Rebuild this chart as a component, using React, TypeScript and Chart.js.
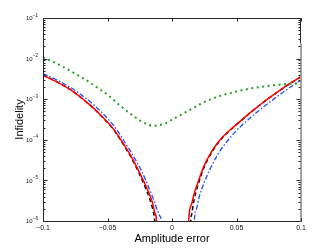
import React, { useEffect, useRef } from 'react';
import { Chart, registerables } from 'chart.js';

Chart.register(...registerables);

// ---- data ----
const redErr = [-0.1, -0.095, -0.09, -0.085, -0.08, -0.075, -0.07, -0.065, -0.06, -0.055, -0.05, -0.045, -0.04, -0.035, -0.03, -0.025, -0.02, -0.017, -0.015, -0.013, -0.012, -0.0112,
  0.0122, 0.013, 0.015, 0.017, 0.02, 0.025, 0.03, 0.035, 0.04, 0.045, 0.05, 0.055, 0.06, 0.065, 0.07, 0.075, 0.08, 0.085, 0.09, 0.095, 0.1];
const redInf = [3.89e-3, 3.27e-3, 2.75e-3, 2.26e-3, 1.82e-3, 1.41e-3, 1.07e-3, 7.9e-4, 5.7e-4, 3.98e-4, 2.72e-4, 1.78e-4, 1.05e-4, 5.9e-5, 3.16e-5, 1.51e-5, 7.1e-6, 4.2e-6, 2.75e-6, 1.5e-6, 1.0e-6, 1e-8,
  1e-8, 1.07e-6, 2.5e-6, 4.5e-6, 8.7e-6, 2.34e-5, 4.68e-5, 8.1e-5, 1.24e-4, 1.74e-4, 2.4e-4, 3.28e-4, 4.48e-4, 6.04e-4, 8.05e-4, 1.06e-3, 1.38e-3, 1.78e-3, 2.28e-3, 2.88e-3, 3.63e-3];

const blackErr = [-0.1, -0.095, -0.09, -0.085, -0.08, -0.075, -0.07, -0.065, -0.06, -0.055, -0.05, -0.045, -0.04, -0.035, -0.03, -0.025, -0.02, -0.017, -0.015, -0.014, -0.0135, -0.0128,
  0.0138, 0.0145, 0.015, 0.017, 0.02, 0.025, 0.03, 0.035, 0.04, 0.045, 0.05, 0.055, 0.06, 0.065, 0.07, 0.075, 0.08, 0.085, 0.09, 0.095, 0.1];
const blackInf = [3.98e-3, 3.3e-3, 2.76e-3, 2.26e-3, 1.82e-3, 1.41e-3, 1.06e-3, 7.8e-4, 5.6e-4, 3.9e-4, 2.65e-4, 1.72e-4, 1.0e-4, 5.6e-5, 2.95e-5, 1.38e-5, 6.0e-6, 3.3e-6, 2.0e-6, 1.45e-6, 1.05e-6, 1e-8,
  1e-8, 1.0e-6, 1.35e-6, 3.2e-6, 7.4e-6, 2.14e-5, 4.4e-5, 7.8e-5, 1.21e-4, 1.71e-4, 2.37e-4, 3.25e-4, 4.44e-4, 6.0e-4, 8.0e-4, 1.05e-3, 1.37e-3, 1.76e-3, 2.25e-3, 2.84e-3, 3.55e-3];

const blueErr = [-0.1, -0.095, -0.09, -0.085, -0.08, -0.075, -0.07, -0.065, -0.06, -0.055, -0.05, -0.045, -0.04, -0.035, -0.03, -0.025, -0.02, -0.015, -0.012, -0.01, -0.008, -0.007, -0.006,
  0.0163, 0.0173, 0.019, 0.021, 0.025, 0.03, 0.035, 0.04, 0.045, 0.05, 0.055, 0.06, 0.065, 0.07, 0.075, 0.08, 0.085, 0.09, 0.095, 0.1];
const blueInf = [4.27e-3, 3.63e-3, 3.05e-3, 2.54e-3, 2.07e-3, 1.64e-3, 1.26e-3, 9.5e-4, 6.95e-4, 4.93e-4, 3.36e-4, 2.2e-4, 1.3e-4, 7.3e-5, 4.0e-5, 2.1e-5, 9.5e-6, 3.9e-6, 2.1e-6, 1.45e-6, 1.0e-6, 5e-7, 1e-8,
  1e-8, 1.0e-6, 2.0e-6, 3.8e-6, 8.9e-6, 2.04e-5, 4.1e-5, 7.1e-5, 1.12e-4, 1.7e-4, 2.42e-4, 3.33e-4, 4.54e-4, 6.1e-4, 8.1e-4, 1.07e-3, 1.4e-3, 1.81e-3, 2.32e-3, 2.95e-3];

const greenErr = [-0.1, -0.095, -0.09, -0.085, -0.08, -0.075, -0.07, -0.065, -0.06, -0.055, -0.05, -0.045, -0.04, -0.035, -0.03, -0.025, -0.02, -0.015, -0.01, -0.005,
  0, 0.005, 0.01, 0.015, 0.02, 0.025, 0.03, 0.035, 0.04, 0.045, 0.05, 0.055, 0.06, 0.065, 0.07, 0.075, 0.08, 0.085, 0.09, 0.095, 0.1];
const greenInf = [1.07e-2, 9.1e-3, 7.7e-3, 6.4e-3, 5.2e-3, 4.24e-3, 3.44e-3, 2.75e-3, 2.15e-3, 1.67e-3, 1.29e-3, 9.4e-4, 6.9e-4, 5.1e-4, 3.9e-4, 3.0e-4, 2.5e-4, 2.2e-4, 2.3e-4, 2.55e-4,
  3.15e-4, 3.8e-4, 4.7e-4, 5.7e-4, 7.0e-4, 8.5e-4, 9.9e-4, 1.14e-3, 1.28e-3, 1.41e-3, 1.55e-3, 1.68e-3, 1.81e-3, 1.93e-3, 2.03e-3, 2.14e-3, 2.24e-3, 2.3e-3, 2.36e-3, 2.43e-3, 2.48e-3];

const xTickValues = [-0.1, -0.05, 0, 0.05, 0.1];
const xTickLabels = ['\u22120.1', '\u22120.05', '0', '0.05', '0.1'];
const yTickExponents = [-6, -5, -4, -3, -2, -1];
const yTickLabels = ['\u22126', '\u22125', '\u22124', '\u22123', '\u22122', '\u22121'];
const xTitle = 'Amplitude error';
const yTitle = 'Infidelity';

const FONT = "'Liberation Sans', Arial, Helvetica, sans-serif";

const pts = (xs: number[], ys: number[]) => xs.map((x, i) => ({ x, y: ys[i] }));

const framePlugin = {
  id: 'matlabFrame',
  afterDraw(chart: any) {
    const { ctx, chartArea: a, scales } = chart;
    const xs = scales.x;
    const ys = scales.y;
    const L = Math.round(a.left) + 0.5;
    const R = Math.round(a.right) - 0.5;
    const T = Math.round(a.top) + 0.5;
    const B = Math.round(a.bottom) + 0.5;
    ctx.save();
    ctx.strokeStyle = '#262626';
    ctx.lineWidth = 1;
    ctx.beginPath();
    ctx.moveTo(L, T); ctx.lineTo(R + 1, T);
    ctx.moveTo(L, T); ctx.lineTo(L, B);
    ctx.moveTo(L - 0.5, B); ctx.lineTo(R + 1.5, B);
    ctx.moveTo(R, T); ctx.lineTo(R, T + 25);
    ctx.stroke();
    ctx.fillStyle = '#a3a3a3';
    ctx.fillRect(R - 0.5, T + 25, 2, B - T - 25);
    ctx.strokeStyle = '#262626';
    ctx.beginPath();
    for (const v of xTickValues) {
      const p = Math.round(xs.getPixelForValue(v)) + 0.5;
      ctx.moveTo(p, B); ctx.lineTo(p, B - 3);
      ctx.moveTo(p, T); ctx.lineTo(p, T + 3);
    }
    for (let i = 0; i < yTickExponents.length; i++) {
      const e = yTickExponents[i];
      const p = Math.round(ys.getPixelForValue(Math.pow(10, e))) + 0.5;
      ctx.moveTo(L, p); ctx.lineTo(L + 4, p);
      ctx.moveTo(R, p); ctx.lineTo(R - 4, p);
      if (i < yTickExponents.length - 1) {
        for (let k = 2; k <= 9; k++) {
          const q = Math.round(ys.getPixelForValue(k * Math.pow(10, e))) + 0.5;
          ctx.moveTo(L, q); ctx.lineTo(L + 2, q);
          ctx.moveTo(R, q); ctx.lineTo(R - 2, q);
        }
      }
    }
    ctx.stroke();
    ctx.fillStyle = '#111';
    ctx.textBaseline = 'middle';
    ctx.textAlign = 'left';
    for (let i = 0; i < yTickExponents.length; i++) {
      const p = ys.getPixelForValue(Math.pow(10, yTickExponents[i]));
      ctx.font = `4.5px ${FONT}`;
      const wExp = ctx.measureText(yTickLabels[i]).width;
      ctx.font = `6px ${FONT}`;
      const wBase = ctx.measureText('10').width;
      const right = a.left - 5;
      const x0 = right - wExp - wBase - 0.3;
      ctx.fillText('10', x0, p + 0.5);
      ctx.font = `4.5px ${FONT}`;
      ctx.fillText(yTickLabels[i], x0 + wBase + 0.3, p - 2.6);
    }
    ctx.restore();
  },
};

export default function App() {
  const ref = useRef<HTMLCanvasElement | null>(null);
  useEffect(() => {
    if (!ref.current) return;
    const chart = new Chart(ref.current, {
      type: 'line',
      data: {
        datasets: [
          {
            label: 'green',
            data: pts(greenErr, greenInf),
            borderColor: '#26a226',
            borderWidth: 2,
            borderDash: [2, 3.5],
            pointRadius: 0,
            cubicInterpolationMode: 'monotone',
            fill: false,
          },
          {
            label: 'blue',
            data: pts(blueErr, blueInf),
            borderColor: '#1f4fff',
            borderWidth: 1.3,
            borderDash: [5, 2, 1.5, 2],
            pointRadius: 0,
            cubicInterpolationMode: 'monotone',
            fill: false,
          },
          {
            label: 'red',
            data: pts(redErr, redInf),
            borderColor: '#ff0000',
            borderWidth: 1.5,
            pointRadius: 0,
            cubicInterpolationMode: 'monotone',
            fill: false,
          },
          {
            label: 'black',
            data: pts(blackErr, blackInf),
            borderColor: '#000000',
            borderWidth: 1.5,
            borderDash: [4, 3],
            pointRadius: 0,
            cubicInterpolationMode: 'monotone',
            fill: false,
          },
        ],
      },
      options: {
        animation: false,
        responsive: false,
        devicePixelRatio: 1,
        events: [],
        layout: { padding: { top: 18, right: 31, left: 0, bottom: 0 } },
        plugins: { legend: { display: false }, tooltip: { enabled: false } },
        scales: {
          x: {
            type: 'linear',
            min: -0.1,
            max: 0.1,
            grid: { display: false, drawTicks: false },
            border: { display: false },
            afterBuildTicks: (scale: any) => {
              scale.ticks = xTickValues.map((v) => ({ value: v }));
            },
            afterFit: (scale: any) => {
              scale.height = 28;
            },
            ticks: {
              padding: 3,
              maxRotation: 0,
              autoSkip: false,
              color: '#111',
              font: { family: FONT, size: 7 },
              callback: (v: any) => {
                const i = xTickValues.indexOf(Number(v));
                return i >= 0 ? xTickLabels[i] : '';
              },
            },
            title: {
              display: true,
              text: xTitle,
              color: '#000',
              font: { family: FONT, size: 11 },
              padding: { top: 0, bottom: 3 },
            },
          },
          y: {
            type: 'logarithmic',
            min: 1e-6,
            max: 1e-1,
            grid: { display: false, drawTicks: false },
            border: { display: false },
            ticks: { display: false },
            afterFit: (scale: any) => {
              scale.width = 43;
            },
            title: {
              display: true,
              text: yTitle,
              color: '#000',
              font: { family: FONT, size: 11 },
              padding: { top: 13, bottom: 0 },
            },
          },
        },
      },
      plugins: [framePlugin],
    } as any);
    return () => chart.destroy();
  }, []);
  return (
    <div style={{ position: 'absolute', left: 0, top: 0, width: 332, height: 249, background: '#fff' }}>
      <canvas ref={ref} width={332} height={249} style={{ display: 'block' }} />
    </div>
  );
}
